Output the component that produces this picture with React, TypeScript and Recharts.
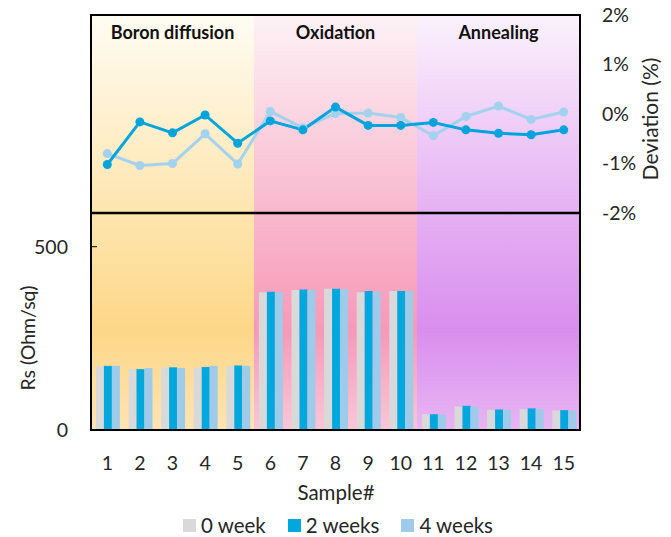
import React from 'react';
import {
  ComposedChart,
  Bar,
  Line,
  XAxis,
  YAxis,
  ReferenceArea,
  ReferenceLine,
  Legend,
  Label,
} from 'recharts';

const samples = ['1', '2', '3', '4', '5', '6', '7', '8', '9', '10', '11', '12', '13', '14', '15'];

// sheet resistance (Ohm/sq)
const week0 = [174, 166, 171, 170, 175, 376, 382, 385, 376, 379, 43, 64, 55, 57, 53];
const week2 = [175, 166, 171, 172, 176, 377, 383, 385, 379, 379, 43, 66, 56, 59, 54];
const week4 = [175, 169, 169, 175, 175, 376, 382, 384, 377, 379, 42, 63, 55, 57, 53];

// deviation (%)
const dev2 = [-1.02, -0.16, -0.38, -0.02, -0.59, -0.14, -0.32, 0.14, -0.23, -0.23, -0.17, -0.32, -0.39, -0.42, -0.32];
const dev4 = [-0.8, -1.04, -1.0, -0.4, -1.01, 0.05, -0.28, 0.01, 0.02, -0.07, -0.44, -0.05, 0.16, -0.11, 0.04];

const devTicks = [-2, -1, 0, 1, 2];
const rsTicks = [0, 500];

const stages = [
  { name: 'Boron diffusion', from: '1', to: '5', fill: 'url(#gBoron)' },
  { name: 'Oxidation', from: '6', to: '10', fill: 'url(#gOx)' },
  { name: 'Annealing', from: '11', to: '15', fill: 'url(#gAnn)' },
];

const C0 = '#d9d9d9';
const C2 = '#00a8de';
const C4 = '#9ecbea';
const LINE2 = '#00a4dc';
const LINE4 = '#a3d2ef';
const TXT = '#262626';

const data = samples.map((s, i) => ({
  sample: s,
  w0: week0[i],
  w2: week2[i],
  w4: week4[i],
  d2: dev2[i],
  d4: dev4[i],
}));

const legendItems = [
  { label: '0 week', color: C0 },
  { label: '2 weeks', color: C2 },
  { label: '4 weeks', color: C4 },
];

const renderLegend = () => (
  <div
    style={{
      display: 'flex',
      justifyContent: 'center',
      gap: 22,
      fontSize: 20.5,
      color: TXT,
      height: 30,
      boxSizing: 'border-box',
      alignItems: 'center',
      paddingTop: 6,
      paddingLeft: 5,
    }}
  >
    {legendItems.map((it) => (
      <span key={it.label} style={{ display: 'flex', alignItems: 'center' }}>
        <span style={{ width: 13, height: 13, background: it.color, marginRight: 5, display: 'inline-block' }} />
        {it.label}
      </span>
    ))}
  </div>
);

export default function App() {
  return (
    <div style={{ position: 'absolute', left: 0, top: 0, fontFamily: 'Lato, sans-serif' }}>
      <ComposedChart
        width={671}
        height={537}
        data={data}
        margin={{ top: 15, right: 31, left: 31, bottom: 0 }}
        barCategoryGap="15%"
        barGap={0}
      >
        <defs>
          <linearGradient id="gBoron" x1="0" y1="0" x2="0" y2="1">
            <stop offset="0" stopColor="#fffcf3" />
            <stop offset="0.48" stopColor="#fee5ae" />
            <stop offset="0.76" stopColor="#fdd788" />
            <stop offset="1" stopColor="#fee4b2" />
          </linearGradient>
          <linearGradient id="gOx" x1="0" y1="0" x2="0" y2="1">
            <stop offset="0" stopColor="#fdf2f6" />
            <stop offset="0.48" stopColor="#f9b8cd" />
            <stop offset="0.76" stopColor="#f799b8" />
            <stop offset="1" stopColor="#f9c6d7" />
          </linearGradient>
          <linearGradient id="gAnn" x1="0" y1="0" x2="0" y2="1">
            <stop offset="0" stopColor="#fbf2fd" />
            <stop offset="0.48" stopColor="#e5b0f3" />
            <stop offset="0.76" stopColor="#d98eee" />
            <stop offset="1" stopColor="#e7b6f2" />
          </linearGradient>
        </defs>

        <XAxis
          dataKey="sample"
          height={77}
          tickLine={false}
          axisLine={{ stroke: '#000', strokeWidth: 2 }}
          tickMargin={20}
          tick={{ fontSize: 19.5, fill: TXT }}
          interval={0}
        >
          <Label
            content={() => (
              <text x={336} y={492} textAnchor="middle" dominantBaseline="central" fontSize={20.5} fill={TXT}>
                Sample#
              </text>
            )}
          />
        </XAxis>
        <YAxis
          yAxisId="devL"
          orientation="left"
          width={0}
          domain={[-6.384, 2]}
          ticks={[-1, 0, 1]}
          tickSize={-6}
          tickLine={{ stroke: '#000', strokeWidth: 1 }}
          axisLine={false}
          tick={() => null}
        />
        <YAxis
          yAxisId="rs"
          orientation="left"
          width={60}
          domain={[0, 1132]}
          ticks={rsTicks}
          tickSize={-6}
          tickMargin={29}
          tickLine={{ stroke: '#000', strokeWidth: 1 }}
          axisLine={{ stroke: '#000', strokeWidth: 2 }}
          tick={{ fontSize: 19.5, fill: TXT }}
        >
          <Label
            content={() => (
              <text
                x={27}
                y={338}
                transform="rotate(-90, 27, 338)"
                textAnchor="middle"
                dominantBaseline="central"
                fontSize={19.5}
                fill={TXT}
              >
                Rs (Ohm/sq)
              </text>
            )}
          />
        </YAxis>
        <YAxis
          yAxisId="dev"
          orientation="right"
          width={60}
          domain={[-6.384, 2]}
          ticks={devTicks}
          tickSize={0}
          tickMargin={22}
          tickLine={false}
          axisLine={{ stroke: '#000', strokeWidth: 2 }}
          tick={{ fontSize: 19.5, fill: TXT }}
          tickFormatter={(v: number) => `${v}%`}
        >
          <Label
            content={() => (
              <text
                x={649}
                y={119}
                transform="rotate(-90, 649, 119)"
                textAnchor="middle"
                dominantBaseline="central"
                fontSize={21}
                fill={TXT}
              >
                Deviation (%)
              </text>
            )}
          />
        </YAxis>

        {stages.map((s) => (
          <ReferenceArea
            key={s.name}
            yAxisId="rs"
            x1={s.from}
            x2={s.to}
            ifOverflow="visible"
            fill={s.fill}
            fillOpacity={1}
            stroke="none"
            label={{ value: s.name, position: 'insideTop', offset: 11, fontSize: 18, fontWeight: 700, fill: '#111' }}
          />
        ))}
        <ReferenceArea
          yAxisId="rs"
          x1={samples[0]}
          x2={samples[samples.length - 1]}
          ifOverflow="visible"
          fill="none"
          stroke="#000"
          strokeWidth={2}
        />
        <ReferenceLine yAxisId="dev" y={-2} stroke="#000" strokeWidth={2.5} />

        <Bar yAxisId="rs" dataKey="w0" name="0 week" fill={C0} isAnimationActive={false} />
        <Bar yAxisId="rs" dataKey="w2" name="2 weeks" fill={C2} isAnimationActive={false} />
        <Bar yAxisId="rs" dataKey="w4" name="4 weeks" fill={C4} isAnimationActive={false} />

        <Line
          yAxisId="dev"
          dataKey="d4"
          stroke={LINE4}
          strokeWidth={3}
          dot={{ r: 4.5, fill: LINE4, stroke: LINE4, strokeWidth: 0 }}
          legendType="none"
          isAnimationActive={false}
        />
        <Line
          yAxisId="dev"
          dataKey="d2"
          stroke={LINE2}
          strokeWidth={3}
          dot={{ r: 4.5, fill: LINE2, stroke: LINE2, strokeWidth: 0 }}
          legendType="none"
          isAnimationActive={false}
        />

        <Legend verticalAlign="bottom" content={renderLegend} />
      </ComposedChart>
    </div>
  );
}
